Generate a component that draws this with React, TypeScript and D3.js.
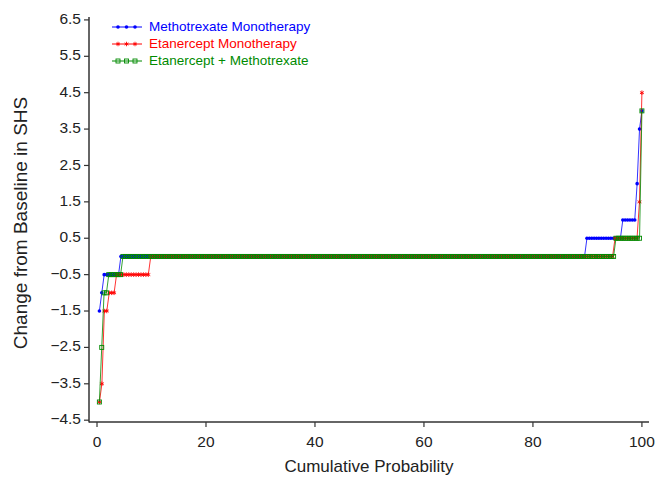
import React from "react";
import * as d3 from "d3";

// distinct change-from-baseline values and how many patients had each
const mtxValues = [-1.5, -1.0, -0.5, 0, 0.5, 1.0, 2.0, 3.5, 4.0];
const mtxCounts = [1, 1, 7, 195, 15, 6, 1, 1, 1];

const etnValues = [-4.0, -3.5, -1.5, -1.0, -0.5, 0, 0.5, 1.5, 4.5];
const etnCounts = [1, 1, 2, 3, 14, 190, 10, 1, 1];

const comboValues = [-4.0, -2.5, -1.0, -0.5, 0, 0.5, 4.0];
const comboCounts = [1, 1, 2, 6, 209, 11, 1];

const seriesNames = ["Methotrexate Monotherapy", "Etanercept Monotherapy", "Etanercept + Methotrexate"];
const seriesColors = ["#0000ff", "#ff0000", "#008a00"];

const yTicks = [-4.5, -3.5, -2.5, -1.5, -0.5, 0.5, 1.5, 2.5, 3.5, 4.5, 5.5, 6.5];
const xTicks = [0, 20, 40, 60, 80, 100];

const W = 665;
const H = 480;

// cumulative probability plot: sorted values, i-th patient at i/n*100
function cumulative(values: number[], counts: number[]) {
  const n = d3.sum(counts);
  const pts: [number, number][] = [];
  let i = 0;
  values.forEach((v, k) => {
    for (let c = 0; c < counts[k]; c++) {
      i++;
      pts.push([(i / n) * 100, v]);
    }
  });
  return pts;
}

const series = [
  cumulative(mtxValues, mtxCounts),
  cumulative(etnValues, etnCounts),
  cumulative(comboValues, comboCounts),
];

function Marker({ kind, x, y, color }: { kind: number; x: number; y: number; color: string }) {
  if (kind === 0) return <circle cx={x} cy={y} r={1.8} fill={color} />;
  if (kind === 1)
    return (
      <path
        transform={`translate(${x},${y})`}
        d={d3.symbol(d3.symbolAsterisk, 14)() as string}
        fill="none"
        stroke={color}
        strokeWidth={0.9}
      />
    );
  return (
    <rect x={x - 2} y={y - 2} width={4} height={4} fill="none" stroke={color} strokeWidth={0.9} />
  );
}

export default function App() {
  const x = d3.scaleLinear().domain([-1.47, 101.3]).range([89, 649]);
  const y = d3.scaleLinear().domain([-4.55, 6.58]).range([422, 17]);
  const [x0, x1] = x.range();
  const [yb, yt] = y.range();
  const line = d3
    .line<[number, number]>()
    .x((d) => x(d[0]))
    .y((d) => y(d[1]));

  const font = "Liberation Sans, Arial, sans-serif";
  const axisColor = "#333";

  return (
    <svg
      width={W}
      height={H}
      style={{ position: "absolute", left: 0, top: 0, background: "#fff" }}
      fontFamily={font}
    >
      {/* data */}
      {series.map((pts, s) => (
        <g key={s}>
          <path d={line(pts) as string} fill="none" stroke={seriesColors[s]} strokeWidth={1} strokeOpacity={0.8} />
          {pts.map((p, i) => (
            <Marker key={i} kind={s} x={x(p[0])} y={y(p[1])} color={seriesColors[s]} />
          ))}
        </g>
      ))}

      {/* axes */}
      <line x1={x0} x2={x0} y1={yt} y2={yb + 0.5} stroke={axisColor} strokeWidth={1.5} />
      <line x1={x0} x2={x1} y1={yb} y2={yb} stroke={axisColor} strokeWidth={1.5} />
      {yTicks.map((t) => (
        <g key={t}>
          <line x1={x0 - 5} x2={x0} y1={y(t)} y2={y(t)} stroke={axisColor} strokeWidth={1.2} />
          <text x={x0 - 8} y={y(t)} textAnchor="end" dominantBaseline="middle" fontSize={15.5} fill="#222">
            {d3.format(".1f")(t).replace("-", "\u2212")}
          </text>
        </g>
      ))}
      {xTicks.map((t) => (
        <g key={t}>
          <line x1={x(t)} x2={x(t)} y1={yb} y2={yb + 5} stroke={axisColor} strokeWidth={1.2} />
          <text x={x(t)} y={yb + 21} textAnchor="middle" dominantBaseline="middle" fontSize={15.5} fill="#222">
            {t}
          </text>
        </g>
      ))}
      <text x={(x0 + x1) / 2} y={468} textAnchor="middle" dominantBaseline="middle" fontSize={17} fill="#222">
        Cumulative Probability
      </text>
      <text
        transform={`translate(22,223) rotate(-90)`}
        textAnchor="middle"
        dominantBaseline="middle"
        fontSize={19}
        fill="#222"
      >
        Change from Baseline in SHS
      </text>

      {/* legend */}
      {seriesNames.map((name, s) => {
        const ly = 27 + s * 17;
        return (
          <g key={name}>
            <line x1={112} x2={142} y1={ly} y2={ly} stroke={seriesColors[s]} strokeWidth={1} />
            {[118, 126.5, 135].map((mx) => (
              <Marker key={mx} kind={s} x={mx} y={ly} color={seriesColors[s]} />
            ))}
            <text x={149} y={ly} dominantBaseline="middle" fontSize={13.5} fill={seriesColors[s]}>
              {name}
            </text>
          </g>
        );
      })}
    </svg>
  );
}
